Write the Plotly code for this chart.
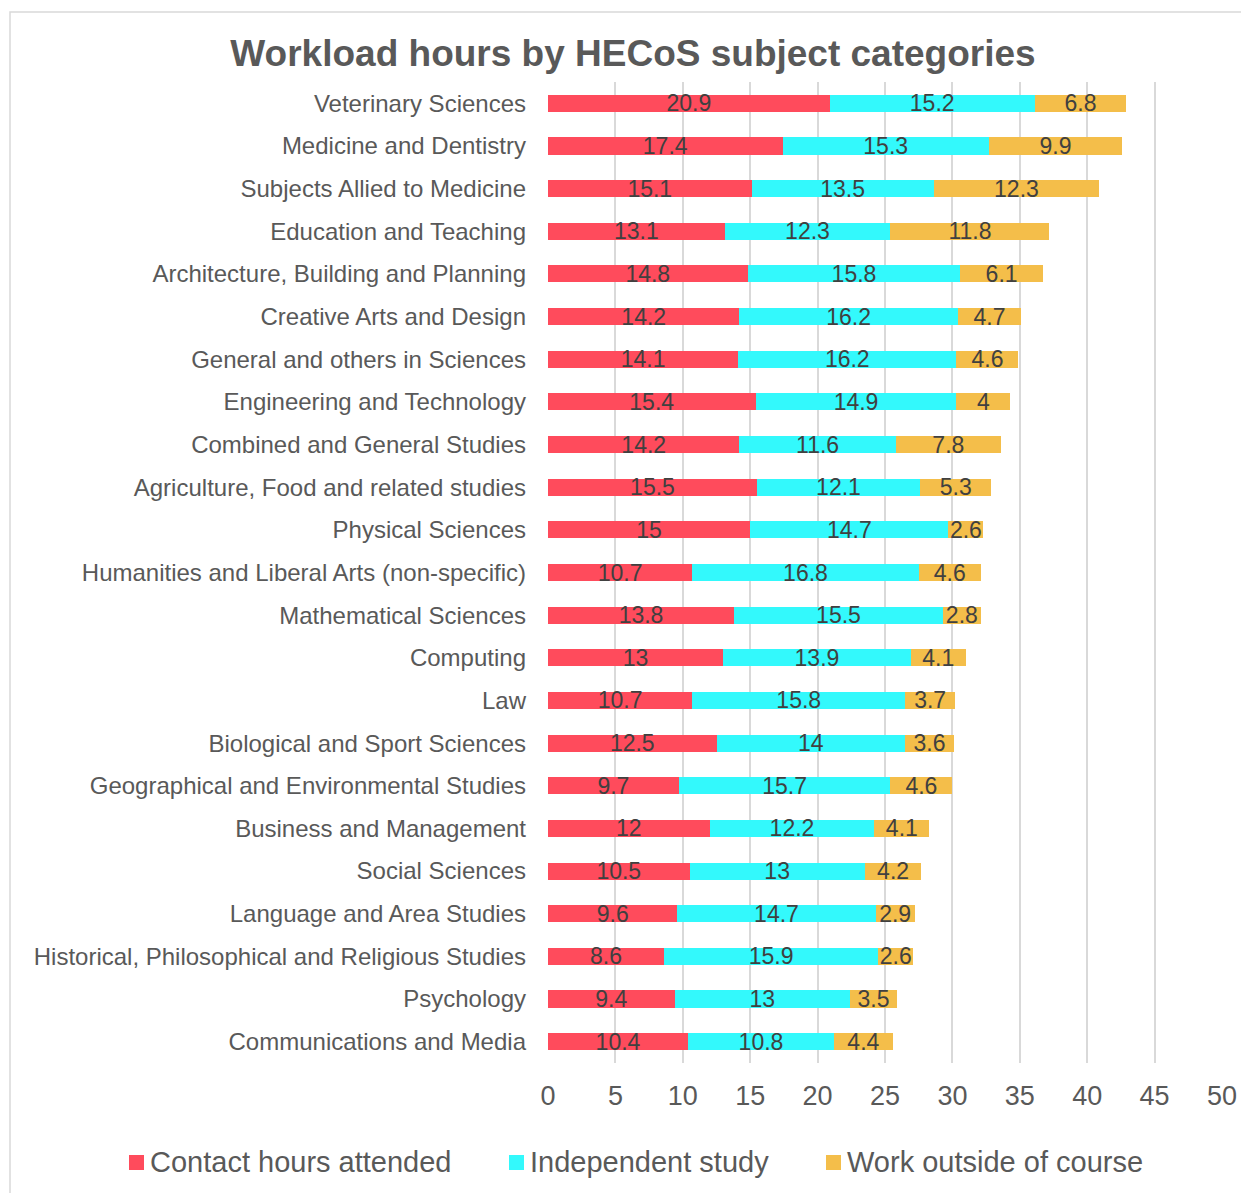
import plotly.graph_objects as go

categories = [
    "Veterinary Sciences", "Medicine and Dentistry", "Subjects Allied to Medicine",
    "Education and Teaching", "Architecture, Building and Planning",
    "Creative Arts and Design", "General and others in Sciences",
    "Engineering and Technology", "Combined and General Studies",
    "Agriculture, Food and related studies", "Physical Sciences",
    "Humanities and Liberal Arts (non-specific)", "Mathematical Sciences",
    "Computing", "Law", "Biological and Sport Sciences",
    "Geographical and Environmental Studies", "Business and Management",
    "Social Sciences", "Language and Area Studies",
    "Historical, Philosophical and Religious Studies", "Psychology",
    "Communications and Media",
]
contact_hours = [20.9, 17.4, 15.1, 13.1, 14.8, 14.2, 14.1, 15.4, 14.2, 15.5, 15,
                 10.7, 13.8, 13, 10.7, 12.5, 9.7, 12, 10.5, 9.6, 8.6, 9.4, 10.4]
independent_study = [15.2, 15.3, 13.5, 12.3, 15.8, 16.2, 16.2, 14.9, 11.6, 12.1, 14.7,
                     16.8, 15.5, 13.9, 15.8, 14, 15.7, 12.2, 13, 14.7, 15.9, 13, 10.8]
work_outside = [6.8, 9.9, 12.3, 11.8, 6.1, 4.7, 4.6, 4, 7.8, 5.3, 2.6,
                4.6, 2.8, 4.1, 3.7, 3.6, 4.6, 4.1, 4.2, 2.9, 2.6, 3.5, 4.4]
series_names = ["Contact hours attended", "Independent study", "Work outside of course"]
x_ticks = [0, 5, 10, 15, 20, 25, 30, 35, 40, 45, 50]

colors = ["#FF4B5C", "#33F9FC", "#F4BE4A"]
FONT = "Liberation Sans, Arial"
W, H = 1241, 1193
L, R, T, B = 548, 19, 82, 130
pw = W - L - R
ph = H - T - B


def px_x(px):
    return (px - L) / pw


def px_y(py):
    return (H - B - py) / ph


fig = go.Figure()
for name, vals, col in zip(series_names, [contact_hours, independent_study, work_outside], colors):
    fig.add_trace(go.Bar(
        y=categories, x=vals, name=name, orientation="h",
        marker=dict(color=col, line=dict(width=0)),
        text=[f"{v:g}" for v in vals], textposition="inside", textangle=0,
        insidetextanchor="middle", constraintext="none",
        textfont=dict(size=23, color="#404040", family=FONT),
        cliponaxis=False, showlegend=False,
    ))

# outer frame
fig.add_shape(type="rect", xref="paper", yref="paper",
              x0=px_x(10), x1=px_x(W + 20), y0=px_y(H + 20), y1=px_y(12),
              line=dict(color="#D9D9D9", width=1.5), layer="below")

# legend (manual)
legend_marks = [129, 509, 826]
for name, col, mx in zip(series_names, colors, legend_marks):
    fig.add_shape(type="rect", xref="paper", yref="paper",
                  x0=px_x(mx), x1=px_x(mx + 15), y0=px_y(1170), y1=px_y(1155),
                  line=dict(width=0), fillcolor=col)
    fig.add_annotation(text=name, xref="paper", yref="paper",
                       x=px_x(mx + 19), y=px_y(1162), xanchor="left", yanchor="middle",
                       showarrow=False, font=dict(size=29, color="#595959", family=FONT))

fig.update_layout(
    width=W, height=H,
    margin=dict(l=L, r=R, t=T, b=B, autoexpand=False),
    barmode="stack", bargap=0.6,
    plot_bgcolor="white", paper_bgcolor="white",
    font=dict(family=FONT, color="#595959"),
    showlegend=False,
    title=dict(text="<b>Workload hours by HECoS subject categories</b>",
               x=633 / W, xanchor="center", xref="container",
               y=1 - 53 / H, yanchor="middle", yref="container",
               font=dict(size=37, color="#595959", family=FONT)),
    xaxis=dict(range=[0, 50], tickvals=x_ticks, showgrid=True, gridcolor="#D9D9D9",
               gridwidth=2, zeroline=False, showline=False,
               tickfont=dict(size=27, color="#595959"), ticklabelstandoff=14,
               ticks="", ticklen=0),
    yaxis=dict(autorange="reversed", showgrid=False, showline=False, ticks="", ticklen=0,
               tickfont=dict(size=24, color="#595959"), ticklabelstandoff=21),
)
fig.write_html("out.html", config={"displayModeBar": False},
               post_script="document.body.style.margin='0';document.body.style.overflow='hidden';")
